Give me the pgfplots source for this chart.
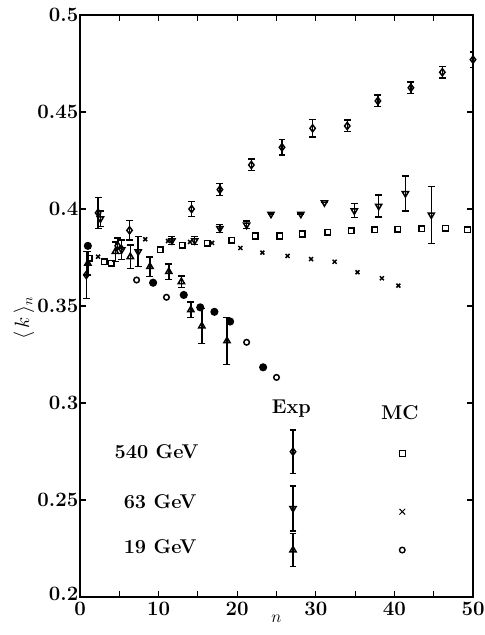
\documentclass[border=0pt]{standalone}
\usepackage{pgfplots}
\pgfplotsset{compat=1.18}

\begin{document}
\begin{tikzpicture}
\begin{axis}[
    scale only axis,
    width=393bp, height=582bp,
    xmin=0, xmax=50, ymin=0.2, ymax=0.5,
    xtick={0,10,20,30,40,50},
    xticklabels={0,10,20,30,40,50},
    minor xtick={5,15,25,35,45},
    ytick={0.25,0.3,0.35,0.4,0.45,0.5},
    yticklabels={0.25,0.3,0.35,0.4,0.45,0.5},
    extra y ticks={0.2},
    extra y tick labels={0.2},
    extra y tick style={yticklabel style={yshift=3.5bp}},
    tick align=inside,
    major tick length=6bp, minor tick length=6bp,
    every tick/.style={black, line width=1.2pt},
    axis line style={line width=2.2pt},
    tick label style={font=\fontsize{20.5}{23}\selectfont\bfseries},
    yticklabel style={inner sep=0.5bp, xshift=-1bp},
    xticklabel style={inner sep=0pt, yshift=-5bp},
    xlabel={$n$},
    xlabel style={font=\fontsize{18}{20}\selectfont, yshift=4bp},
    ylabel={$\langle\,k\,\rangle_n$},
    ylabel style={at={(axis description cs:-0.1425,0.479)}, anchor=center,
        font=\fontsize{20}{22}\selectfont},
    every axis plot/.append style={only marks, black, line width=1.5pt},
    error bars/y dir=both, error bars/y explicit,
    error bars/error bar style={line width=1.4pt},
    error bars/error mark options={mark size=3.5pt, line width=1.4pt, rotate=90},
]
\coordinate (bl) at (rel axis cs:0,0);
\coordinate (tr) at (rel axis cs:1,1);

% 540 GeV experiment
\addplot[mark=diamond, mark size=3.6pt] coordinates {
    (0.8,0.366) +- (0,0.012)
    (2.3,0.398) +- (0,0.008)
    (4.8,0.381) +- (0,0.004)
    (6.3,0.389) +- (0,0.005)
    (14.2,0.400) +- (0,0.004)
    (17.8,0.410) +- (0,0.003)
    (21.8,0.4227) +- (0,0.003)
    (25.7,0.4318) +- (0,0.004)
    (29.6,0.4416) +- (0,0.0045)
    (34.0,0.4428) +- (0,0.003)
    (37.9,0.4557) +- (0,0.003)
    (42.1,0.4625) +- (0,0.003)
    (46.1,0.4705) +- (0,0.003)
    (50.0,0.477) +- (0,0.004)
};
% 63 GeV experiment
\addplot[mark=triangle, mark size=3.6pt, mark options={rotate=180}] coordinates {
    (2.6,0.395) +- (0,0.004)
    (5.3,0.379) +- (0,0.005)
    (7.4,0.378) +- (0,0.0077)
    (11.7,0.3837) +- (0,0.002)
    (14.6,0.3837) +- (0,0.002)
    (17.8,0.390) +- (0,0.002)
    (21.2,0.3918) +- (0,0.002)
    (24.3,0.3974) +- (0,0.0)
    (28.1,0.3974) +- (0,0.0)
    (31.1,0.4033) +- (0,0.0)
    (34.9,0.3991) +- (0,0.0036)
    (38.0,0.4015) +- (0,0.0057)
    (41.4,0.408) +- (0,0.009)
    (44.7,0.397) +- (0,0.0147)
};
% 19 GeV experiment
\addplot[mark=triangle, mark size=3.6pt] coordinates {
    (1.0,0.372) +- (0,0.006)
    (4.5,0.378) +- (0,0.005)
    (6.4,0.3754) +- (0,0.006)
    (8.9,0.3703) +- (0,0.005)
    (11.3,0.3677) +- (0,0.004)
    (12.9,0.3625) +- (0,0.003)
    (14.1,0.348) +- (0,0.004)
    (15.5,0.3397) +- (0,0.009)
    (18.7,0.332) +- (0,0.012)
};
% filled points
\addplot[mark=*, mark size=3.3pt] coordinates {
    (1.0,0.381) (9.3,0.362) (13.2,0.3557) (15.3,0.3493)
    (17.1,0.347) (19.1,0.342) (23.3,0.3184)
};
% 540 GeV MC
\addplot[mark=square, mark size=2.8pt] coordinates {
    (1.2,0.3746) (3.1,0.3728) (4.0,0.372) (10.2,0.3789) (13.0,0.3814)
    (16.2,0.3823) (19.3,0.384) (22.3,0.3861) (25.4,0.3861) (28.3,0.3871)
    (31.5,0.388) (34.5,0.3887) (37.5,0.3892) (40.4,0.3895) (43.5,0.3898)
    (46.5,0.39) (49.3,0.3892)
};
% 63 GeV MC
\addplot[mark=x, mark size=2.8pt] coordinates {
    (2.3,0.3754) (5.2,0.380) (8.3,0.3844) (11.2,0.3835) (14.0,0.383)
    (16.8,0.3825) (20.4,0.3799) (23.2,0.3775) (26.4,0.3758) (29.4,0.3742)
    (32.4,0.3728) (35.3,0.3674) (38.4,0.3643) (40.5,0.3605)
};
% 19 GeV MC
\addplot[mark=o, mark size=2.8pt] coordinates {
    (7.2,0.3634) (11.0,0.3545) (21.2,0.3313) (25.0,0.3132)
};

% key
\addplot[mark=diamond, mark size=3.6pt] coordinates {(27.1,0.2749) +- (0,0.0112)};
\addplot[mark=triangle, mark size=3.6pt, mark options={rotate=180}] coordinates {(27.1,0.2457) +- (0,0.0116)};
\addplot[mark=triangle, mark size=3.6pt] coordinates {(27.1,0.2242) +- (0,0.0086)};
\addplot[mark=square, mark size=3pt, line width=1.4pt] coordinates {(41.0,0.274)};
\addplot[mark=x, mark size=4pt, line width=0.9pt] coordinates {(41.0,0.244)};
\addplot[mark=o, mark size=2.8pt, line width=1.4pt] coordinates {(41.0,0.2242)};

\begin{scope}[every node/.style={font=\fontsize{20}{22}\selectfont\bfseries}]
\node at (axis cs:26.9,0.2973) {Exp};
\node at (axis cs:40.7,0.2948) {MC};
\node at (axis cs:9.75,0.2749) {540 GeV};
\node at (axis cs:10.2,0.2491) {63 GeV};
\node at (axis cs:10.2,0.2259) {19 GeV};
\end{scope}
\end{axis}
\pgfresetboundingbox
\path (bl) ++(-80bp,-38bp) rectangle ([shift={(12bp,15bp)}]tr);
\end{tikzpicture}
\end{document}
